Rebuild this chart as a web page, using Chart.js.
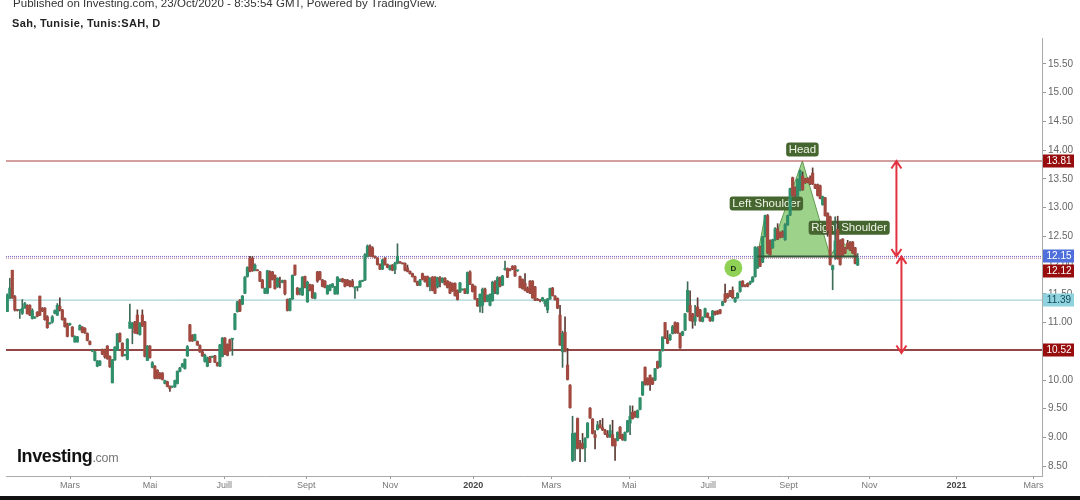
<!DOCTYPE html>
<html>
<head>
<meta charset="utf-8">
<title>Sah, Tunisie</title>
<script src="https://cdn.jsdelivr.net/npm/chart.js@4/dist/chart.umd.min.js"></script>
<style>
    html, body { margin: 0; padding: 0; background: #fff; overflow: hidden; }
    #wrap { position: relative; width: 1080px; height: 500px; font-family: "Liberation Sans", Arial, sans-serif; }
    #priceChart { position: absolute; left: 0; top: 0; filter: blur(0.35px); }
    .txt { position: absolute; white-space: nowrap; }
    #published { left: 13px; top: -3px; font-size: 11.5px; color: #333; letter-spacing: 0.03px; }
    #symbol { left: 12px; top: 17px; font-size: 11px; font-weight: bold; color: #222; letter-spacing: 0.35px; }
    #logo { left: 17px; top: 446px; font-size: 18px; font-weight: bold; color: #111; letter-spacing: -0.4px; }
    #logo span { font-size: 12.5px; font-weight: normal; color: #777; letter-spacing: -0.3px; }
    #bottomBar { position: absolute; left: 0; top: 496px; width: 1080px; height: 4px; background: #111; }
</style>
</head>
<body>
<div id="wrap">
    <canvas id="priceChart" width="1080" height="500"></canvas>
    <div class="txt" id="published">Published on Investing.com, 23/Oct/2020 - 8:35:54 GMT, Powered by TradingView.</div>
    <div class="txt" id="symbol">Sah, Tunisie, Tunis:SAH, D</div>
    <div class="txt" id="logo">Investing<span>.com</span></div>
    <div id="bottomBar"></div>
</div>
<script>
// daily candles
const opens = [
    11.19,11.42,11.91,11.45,11.22,11.21,11.16,11.25,11.30,11.30,
    11.07,11.08,11.18,11.46,11.25,11.25,11.10,10.98,11.01,11.16,
    11.13,11.28,11.22,11.07,10.98,10.96,10.92,10.66,10.66,10.87,
    10.92,10.90,10.81,10.67,10.50,10.34,10.24,10.26,10.53,10.53,
    10.59,10.41,9.95,10.35,10.52,10.81,10.64,10.43,10.36,10.90,
    10.90,11.01,11.13,10.79,11.13,11.01,10.34,10.59,10.22,10.24,
    10.17,10.12,10.12,9.94,9.97,9.89,9.88,9.88,9.94,10.15,
    10.23,10.20,10.42,10.96,10.78,10.69,10.67,10.60,10.49,10.32,
    10.24,10.40,10.40,10.42,10.30,10.24,10.41,10.73,10.62,10.70,
    10.71,10.88,11.19,11.39,11.32,11.51,11.80,12.12,12.12,11.91,
    11.91,11.88,11.74,11.51,11.51,11.88,11.88,11.82,11.62,11.72,
    11.70,11.73,11.40,11.21,11.41,12.00,11.60,11.55,11.48,11.80,
    11.36,11.66,11.65,11.42,11.88,11.88,11.74,11.72,11.50,11.56,
    11.62,11.50,11.50,11.72,11.76,11.74,11.74,11.72,11.72,11.60,
    11.61,11.62,11.72,11.74,12.15,12.33,12.30,12.15,12.12,12.01,
    11.93,12.12,12.01,11.92,12.00,11.92,12.03,12.05,12.03,12.03,
    11.95,11.89,11.85,11.80,11.71,11.65,11.85,11.80,11.80,11.63,
    11.79,11.79,11.62,11.78,11.70,11.77,11.72,11.70,11.68,11.68,
    11.56,11.53,11.57,11.58,11.51,11.88,11.66,11.63,11.41,11.28,
    11.30,11.58,11.37,11.30,11.38,11.70,11.50,11.78,11.65,11.92,
    11.94,11.93,11.98,11.98,11.90,11.80,11.75,11.68,11.60,11.72,
    11.72,11.62,11.40,11.39,11.38,11.33,11.22,11.41,11.60,11.46,
    11.42,11.13,10.49,10.83,10.26,9.91,8.60,8.81,9.33,8.90,
    8.90,8.82,9.00,9.51,9.32,9.05,9.14,9.22,9.17,9.13,
    9.06,9.01,9.05,8.97,8.95,9.18,9.05,8.95,9.10,9.25,
    9.44,9.45,9.35,9.49,9.74,10.22,10.03,10.08,10.03,10.00,
    10.32,10.23,10.51,11.00,10.73,10.70,10.81,11.00,10.99,10.81,
    10.78,10.87,11.19,11.30,11.15,11.02,11.27,11.22,11.02,11.10,
    11.16,11.09,11.03,11.19,11.20,11.22,11.30,11.50,11.50,11.55,
    11.56,11.36,11.43,11.54,11.72,11.65,11.68,11.68,11.71,11.80,
    11.95,12.32,12.05,12.50,12.86,12.43,12.30,12.44,12.63,12.57,
    12.58,12.44,12.70,12.87,13.52,13.35,13.20,13.30,13.55,13.50,
    13.51,13.52,13.60,13.40,13.40,13.38,13.05,13.17,12.90,12.84,
    11.92,12.20,12.62,12.43,12.45,12.30,12.38,12.40,12.40,12.30,12.00
];
const highs = [
    11.50,11.77,11.91,11.47,11.23,11.22,11.40,11.35,11.31,11.31,
    11.24,11.10,11.19,11.46,11.26,11.26,11.12,11.00,11.12,11.22,
    11.33,11.43,11.23,11.08,10.99,10.99,10.93,10.77,10.76,10.96,
    10.93,10.91,10.82,10.68,10.53,10.50,10.34,10.34,10.54,10.54,
    10.60,10.42,10.36,10.58,10.81,10.82,10.65,10.44,10.72,11.32,
    11.00,11.02,11.22,11.00,11.22,11.02,10.60,10.60,10.32,10.25,
    10.18,10.13,10.13,10.00,9.98,9.90,9.89,10.00,10.16,10.22,
    10.29,10.37,10.60,10.97,10.79,10.80,10.68,10.61,10.50,10.45,
    10.40,10.41,10.41,10.43,10.31,10.62,10.74,10.74,10.63,10.71,
    10.72,11.16,11.37,11.40,11.47,11.80,11.97,12.15,12.15,12.02,
    11.92,11.89,11.75,11.60,11.91,11.90,11.89,11.83,11.78,11.79,
    11.74,11.74,11.41,11.42,11.83,12.00,11.61,11.60,11.80,11.81,
    11.72,11.67,11.66,11.52,11.89,11.89,11.75,11.73,11.65,11.66,
    11.68,11.63,11.80,11.76,11.77,11.75,11.75,11.73,11.75,11.62,
    11.62,11.73,11.73,12.20,12.35,12.35,12.32,12.16,12.13,12.02,
    12.10,12.13,12.02,12.00,12.01,12.05,12.37,12.06,12.04,12.04,
    12.00,11.90,11.86,11.81,11.72,11.75,11.86,11.81,11.81,11.78,
    11.80,11.80,11.79,11.80,11.78,11.78,11.73,11.71,11.69,11.69,
    11.57,11.70,11.58,11.59,11.88,11.90,11.67,11.64,11.42,11.50,
    11.60,11.60,11.48,11.50,11.72,11.73,11.80,11.79,11.82,12.07,
    11.95,11.94,11.99,11.99,11.91,11.81,11.76,11.85,11.62,11.73,
    11.73,11.63,11.42,11.40,11.44,11.40,11.42,11.60,11.61,11.47,
    11.43,11.30,10.85,11.10,10.55,9.92,9.37,9.08,9.34,8.95,
    9.07,9.00,9.26,9.52,9.33,9.12,9.28,9.30,9.33,9.14,
    9.12,9.22,9.30,8.98,9.10,9.19,9.06,9.10,9.30,9.55,
    9.55,9.46,9.48,9.69,9.97,10.23,10.04,10.09,10.04,10.20,
    10.33,10.50,10.75,11.00,10.86,10.80,10.95,11.01,11.00,10.82,
    10.85,11.16,11.71,11.55,11.16,11.30,11.43,11.23,11.10,11.25,
    11.17,11.10,11.21,11.20,11.21,11.23,11.37,11.67,11.51,11.56,
    11.62,11.44,11.52,11.72,11.73,11.66,11.69,11.72,11.80,12.32,
    12.32,12.33,12.50,12.87,12.88,12.44,12.45,12.65,12.72,12.58,
    12.60,12.72,12.87,13.34,13.53,13.36,13.50,13.65,13.62,13.51,
    13.52,13.55,13.69,13.41,13.41,13.39,13.20,13.18,12.91,12.85,
    12.00,12.84,12.85,12.44,12.46,12.31,12.43,12.41,12.41,12.31,12.20
];
const lows = [
    11.19,11.42,11.42,11.20,11.20,11.07,11.14,11.25,11.15,11.12,
    11.06,11.07,11.10,11.12,11.19,11.04,10.90,10.97,10.99,11.15,
    11.12,11.20,11.04,10.92,10.75,10.95,10.75,10.66,10.66,10.87,
    10.82,10.81,10.68,10.61,10.49,10.33,10.23,10.25,10.44,10.38,
    10.36,10.22,9.95,10.34,10.51,10.66,10.41,10.42,10.35,10.90,
    10.63,10.81,10.80,10.78,10.93,10.40,10.34,10.38,10.21,10.02,
    10.02,10.02,10.00,9.93,9.88,9.80,9.87,9.87,9.93,10.14,
    10.22,10.19,10.41,10.67,10.67,10.68,10.60,10.48,10.41,10.31,
    10.23,10.30,10.39,10.30,10.24,10.23,10.40,10.44,10.42,10.50,
    10.43,10.87,11.18,11.19,11.31,11.50,11.79,11.88,11.89,11.90,
    11.90,11.71,11.60,11.50,11.50,11.60,11.74,11.58,11.61,11.60,
    11.69,11.48,11.20,11.20,11.40,11.82,11.48,11.48,11.47,11.60,
    11.35,11.55,11.42,11.41,11.70,11.74,11.62,11.60,11.49,11.55,
    11.61,11.49,11.49,11.71,11.70,11.62,11.64,11.62,11.62,11.42,
    11.55,11.61,11.71,11.73,12.14,12.15,12.14,12.12,12.00,11.92,
    11.92,12.00,11.95,11.91,11.90,11.85,12.02,12.03,12.02,11.90,
    11.88,11.84,11.79,11.70,11.64,11.64,11.74,11.70,11.62,11.55,
    11.55,11.50,11.60,11.62,11.69,11.65,11.60,11.50,11.54,11.46,
    11.39,11.52,11.56,11.50,11.50,11.66,11.53,11.40,11.28,11.18,
    11.17,11.36,11.36,11.29,11.37,11.50,11.49,11.62,11.64,11.91,
    11.78,11.90,11.92,11.80,11.89,11.60,11.58,11.55,11.52,11.50,
    11.42,11.38,11.38,11.36,11.37,11.28,11.17,11.40,11.46,11.39,
    11.24,10.60,10.22,10.49,10.00,9.51,8.58,8.60,8.80,8.58,
    8.80,8.58,8.99,9.33,9.06,8.80,9.13,9.16,9.12,9.05,
    9.00,9.00,8.85,8.60,8.94,8.98,8.95,8.94,9.09,9.05,
    9.32,9.35,9.34,9.48,9.73,9.91,9.91,9.82,9.92,9.99,
    10.20,10.22,10.50,10.72,10.63,10.69,10.80,10.81,10.81,10.55,
    10.77,10.86,11.18,11.03,10.90,10.95,11.10,11.02,11.01,11.09,
    11.08,11.02,11.02,11.13,11.14,11.15,11.29,11.35,11.42,11.45,
    11.42,11.35,11.42,11.53,11.62,11.62,11.62,11.66,11.70,11.79,
    11.94,11.97,12.04,12.49,12.20,12.17,12.29,12.43,12.44,12.47,
    12.48,12.43,12.69,12.86,13.20,13.19,13.19,13.29,13.30,13.42,
    13.43,13.40,13.40,13.33,13.20,13.15,13.04,12.85,12.50,12.00,
    11.57,12.10,12.10,12.00,12.15,12.20,12.28,12.25,12.20,12.02,11.99
];
const closes = [
    11.48,11.60,11.43,11.22,11.21,11.22,11.25,11.33,11.15,11.13,
    11.21,11.09,11.11,11.13,11.20,11.05,10.91,10.99,11.10,11.21,
    11.30,11.22,11.05,10.93,10.76,10.98,10.76,10.76,10.75,10.95,
    10.83,10.82,10.69,10.62,10.51,10.49,10.33,10.33,10.45,10.40,
    10.37,10.23,10.35,10.57,10.80,10.67,10.42,10.43,10.71,11.01,
    10.99,10.82,10.81,10.99,10.94,10.41,10.59,10.39,10.30,10.03,
    10.03,10.03,10.01,9.99,9.89,9.85,9.88,9.99,10.15,10.21,
    10.28,10.36,10.58,10.68,10.68,10.79,10.61,10.49,10.42,10.43,
    10.38,10.31,10.40,10.31,10.25,10.61,10.73,10.45,10.43,10.51,
    10.71,11.15,11.36,11.20,11.46,11.79,11.96,11.89,11.90,12.00,
    11.90,11.72,11.60,11.59,11.90,11.61,11.75,11.59,11.77,11.70,
    11.73,11.50,11.21,11.41,11.82,11.83,11.49,11.59,11.79,11.61,
    11.70,11.56,11.43,11.51,11.72,11.75,11.63,11.61,11.64,11.65,
    11.67,11.62,11.79,11.75,11.71,11.63,11.65,11.63,11.63,11.60,
    11.61,11.72,11.72,12.18,12.33,12.16,12.15,12.13,12.01,11.93,
    12.09,12.01,11.96,11.99,11.91,12.03,12.15,12.04,12.02,11.91,
    11.89,11.85,11.80,11.71,11.65,11.74,11.75,11.71,11.63,11.77,
    11.56,11.51,11.78,11.72,11.77,11.66,11.61,11.51,11.55,11.47,
    11.40,11.69,11.57,11.51,11.87,11.67,11.54,11.41,11.29,11.49,
    11.58,11.37,11.47,11.49,11.70,11.55,11.78,11.63,11.81,11.93,
    11.79,11.91,11.93,11.81,11.90,11.61,11.59,11.56,11.53,11.51,
    11.43,11.39,11.39,11.38,11.43,11.39,11.41,11.59,11.47,11.40,
    11.25,10.61,10.81,10.50,10.01,9.52,9.07,9.07,8.81,8.82,
    8.81,8.98,9.25,9.34,9.07,9.00,9.22,9.17,9.13,9.06,
    9.01,9.12,8.86,8.85,9.09,8.99,8.96,9.09,9.29,9.37,
    9.33,9.36,9.47,9.69,9.97,9.93,9.92,9.92,9.93,10.20,
    10.21,10.49,10.75,10.73,10.64,10.78,10.93,10.82,10.82,10.56,
    10.84,11.15,11.56,11.04,11.02,11.10,11.11,11.03,11.09,11.24,
    11.09,11.03,11.20,11.14,11.15,11.16,11.36,11.36,11.43,11.46,
    11.43,11.42,11.51,11.71,11.63,11.63,11.63,11.70,11.79,12.31,
    12.29,11.98,12.49,12.86,12.21,12.18,12.44,12.63,12.45,12.48,
    12.49,12.70,12.86,13.33,13.21,13.20,13.49,13.64,13.31,13.43,
    13.44,13.41,13.41,13.34,13.21,13.16,13.19,12.86,12.60,12.01,
    11.99,12.42,12.11,12.01,12.16,12.21,12.29,12.26,12.21,12.03,12.12
];

// axis ticks (x in candle positions)
const monthLabels = ["Mars", "Mai", "Juill", "Sept", "Nov", "2020", "Mars", "Mai", "Juill", "Sept", "Nov", "2021", "Mars"];
const monthPositions = [25.1, 57.1, 86.7, 119.5, 153.1, 186.3, 217.5, 248.7, 280.3, 312.3, 344.7, 379.5, 410.3];
const priceTicks = [8.5, 9, 9.5, 10, 10.5, 11, 11.5, 12, 12.5, 13, 13.5, 14, 14.5, 15, 15.5];

// horizontal levels drawn on the chart
const levelResistance = 13.81;
const levelNeckBlue = 12.15;
const levelNeckRed = 12.12;
const levelTeal = 11.39;
const levelSupport = 10.52;

// price tags on the right axis
const tagValues = [13.81, 12.15, 12.12, 11.39, 10.52];
const tagColors = ["#970c0c", "#4f70dc", "#970c0c", "#8fd3de", "#970c0c"];
const tagText = ["#fff", "#fff", "#fff", "#134a55", "#fff"];
const tagShift = [0, 0, 13, 0, 0];

// head and shoulders drawing
const patternX = [299.9, 303, 304.3, 317.9, 329, 333, 339.8];
const patternY = [12.15, 12.87, 12.15, 13.81, 12.15, 12.44, 12.15];
const labelNames = ["Head", "Left Shoulder", "Right Shoulder"];
const labelX = [317.9, 303.5, 336.6];
const labelY = [14.01, 13.07, 12.65];
const signalX = [290.3];
const signalY = [11.95];

// the two red arrows
const arrowOneX = [353.5, 355.5, 357.5, null, 355.5, 355.5, null, 353.5, 355.5, 357.5];
const arrowOneY = [13.68, 13.81, 13.68, null, 13.81, 12.15, null, 12.28, 12.15, 12.28];
const arrowTwoX = [355.5, 357.5, 359.5, null, 357.5, 357.5, null, 355.5, 357.5, 359.5];
const arrowTwoY = [12.02, 12.15, 12.02, null, 12.15, 10.47, null, 10.60, 10.47, 10.60];

const xMin = -0.52;
const xMax = 413.7;
const colorUp = "#2f8f6a";
const colorDown = "#a34a40";

function toPoints(xs, ys) {
    return xs.map((x, i) => ({ x: x, y: ys[i] }));
}

function levelLine(value, color, width, dash, order) {
    return {
        type: "line",
        data: [{ x: xMin, y: value }, { x: xMax, y: value }],
        borderColor: color,
        borderWidth: width,
        borderDash: dash,
        pointRadius: 0,
        order: order
    };
}

function arrowLine(xs, ys) {
    return {
        type: "line",
        data: toPoints(xs, ys),
        borderColor: "#e2323f",
        borderWidth: 2,
        pointRadius: 0,
        spanGaps: false,
        order: -2
    };
}

const wickData = lows.map((low, i) => ({ x: i, y: [low, highs[i]] }));
const bodyData = opens.map((open, i) => ({ x: i, y: [open, closes[i]] }));
const wickColors = opens.map((open, i) => closes[i] >= open ? "#3d6b58" : "#5c3a34");
const bodyColors = opens.map((open, i) => closes[i] >= open ? colorUp : colorDown);

const patternIndex = 0;

// boxes under the candles, so it runs right after the pattern fill
const labelPlugin = {
    id: "patternLabels",
    afterDatasetDraw(chart, args) {
        if (args.index !== patternIndex) return;
        const ctx = chart.ctx;
        const { x, y } = chart.scales;
        ctx.save();
        ctx.font = '11.5px "Liberation Sans"';
        ctx.textAlign = "center";
        ctx.textBaseline = "middle";
        labelNames.forEach((name, i) => {
            const cx = x.getPixelForValue(labelX[i]);
            const cy = y.getPixelForValue(labelY[i]);
            const w = ctx.measureText(name).width + 5;
            ctx.fillStyle = "#46662f";
            ctx.beginPath();
            ctx.roundRect(cx - w / 2, cy - 7, w, 14, 3);
            ctx.fill();
            ctx.fillStyle = "#eef3e6";
            ctx.fillText(name, cx, cy + 0.5);
        });
        ctx.restore();
    }
};

const tagPlugin = {
    id: "priceTags",
    afterDraw(chart) {
        const ctx = chart.ctx;
        const { x, y } = chart.scales;
        ctx.save();
        ctx.textAlign = "center";
        ctx.textBaseline = "middle";
        ctx.font = '10px "Liberation Sans"';
        tagValues.forEach((value, i) => {
            const cy = Math.round(y.getPixelForValue(value)) + tagShift[i];
            ctx.fillStyle = tagColors[i];
            ctx.fillRect(1043, cy - 6.5, 31, 13);
            ctx.fillStyle = tagText[i];
            ctx.fillText(value.toFixed(2), 1059, cy + 0.5);
        });
        // letter inside the green signal dot
        ctx.fillStyle = "#1c2a10";
        ctx.font = 'bold 8px "Liberation Sans"';
        ctx.fillText("D", x.getPixelForValue(signalX[0]), y.getPixelForValue(signalY[0]) + 0.5);
        ctx.restore();
    }
};

Chart.defaults.font.family = '"Liberation Sans", Arial, sans-serif';

new Chart(document.getElementById("priceChart"), {
    type: "bar",
    data: {
        datasets: [
            {
                type: "line",
                data: toPoints(patternX, patternY),
                borderColor: "#5f9a4f",
                borderWidth: 1,
                backgroundColor: "rgba(133, 199, 110, 0.8)",
                fill: { value: levelNeckBlue },
                tension: 0,
                pointRadius: 0,
                order: 10
            },
            levelLine(levelResistance, "#a8403f", 1, [], 9),
            levelLine(levelNeckBlue, "#6a62c4", 1, [1, 1], 9),
            levelLine(levelNeckRed, "#b06a88", 1, [1, 1], 9),
            levelLine(levelTeal, "#8fc9cf", 1, [], 9),
            levelLine(levelSupport, "#6e0808", 1.5, [], 9),
            {
                data: wickData,
                backgroundColor: wickColors,
                barThickness: 1,
                minBarLength: 1,
                grouped: false,
                order: 3
            },
            {
                data: bodyData,
                backgroundColor: bodyColors,
                barThickness: 2.5,
                minBarLength: 1,
                grouped: false,
                order: 2
            },
            {
                type: "line",
                data: [{ x: patternX[0], y: levelNeckBlue }, { x: patternX[6], y: levelNeckBlue }],
                borderColor: "#38563a",
                borderWidth: 2,
                pointRadius: 0,
                order: -1
            },
            {
                type: "line",
                data: toPoints(signalX, signalY),
                showLine: false,
                pointRadius: 9,
                pointBorderWidth: 0,
                pointBackgroundColor: "#8ed155",
                order: -1
            },
            arrowLine(arrowOneX, arrowOneY),
            arrowLine(arrowTwoX, arrowTwoY)
        ]
    },
    options: {
        responsive: false,
        animation: false,
        events: [],
        layout: { autoPadding: false, padding: { left: 6, top: 38, right: 0, bottom: 0 } },
        plugins: {
            legend: { display: false },
            tooltip: { enabled: false }
        },
        scales: {
            x: {
                type: "linear",
                offset: false,
                min: xMin,
                max: xMax,
                afterBuildTicks: (scale) => { scale.ticks = monthPositions.map((p) => ({ value: p })); },
                afterFit: (scale) => { scale.height = 24; },
                grid: { drawOnChartArea: false, offset: false, tickLength: 3, color: "#999" },
                border: { color: "#aaa" },
                ticks: {
                    autoSkip: false,
                    maxRotation: 0,
                    padding: 1,
                    color: (c) => (monthLabels[c.index] || "").startsWith("20") ? "#444" : "#777",
                    font: (c) => ({ size: 9, weight: (monthLabels[c.index] || "").startsWith("20") ? "bold" : "normal" }),
                    callback: (value, index) => monthLabels[index]
                }
            },
            y: {
                position: "right",
                min: 8.33,
                max: 15.95,
                afterBuildTicks: (scale) => { scale.ticks = priceTicks.map((p) => ({ value: p })); },
                afterFit: (scale) => { scale.width = 38; },
                grid: { drawOnChartArea: false, tickLength: 4, color: "#999" },
                border: { color: "#aaa" },
                ticks: {
                    padding: 2,
                    color: "#666",
                    font: { size: 10 },
                    callback: (value) => Number(value).toFixed(2)
                }
            }
        }
    },
    plugins: [labelPlugin, tagPlugin]
});
</script>
</body>
</html>
